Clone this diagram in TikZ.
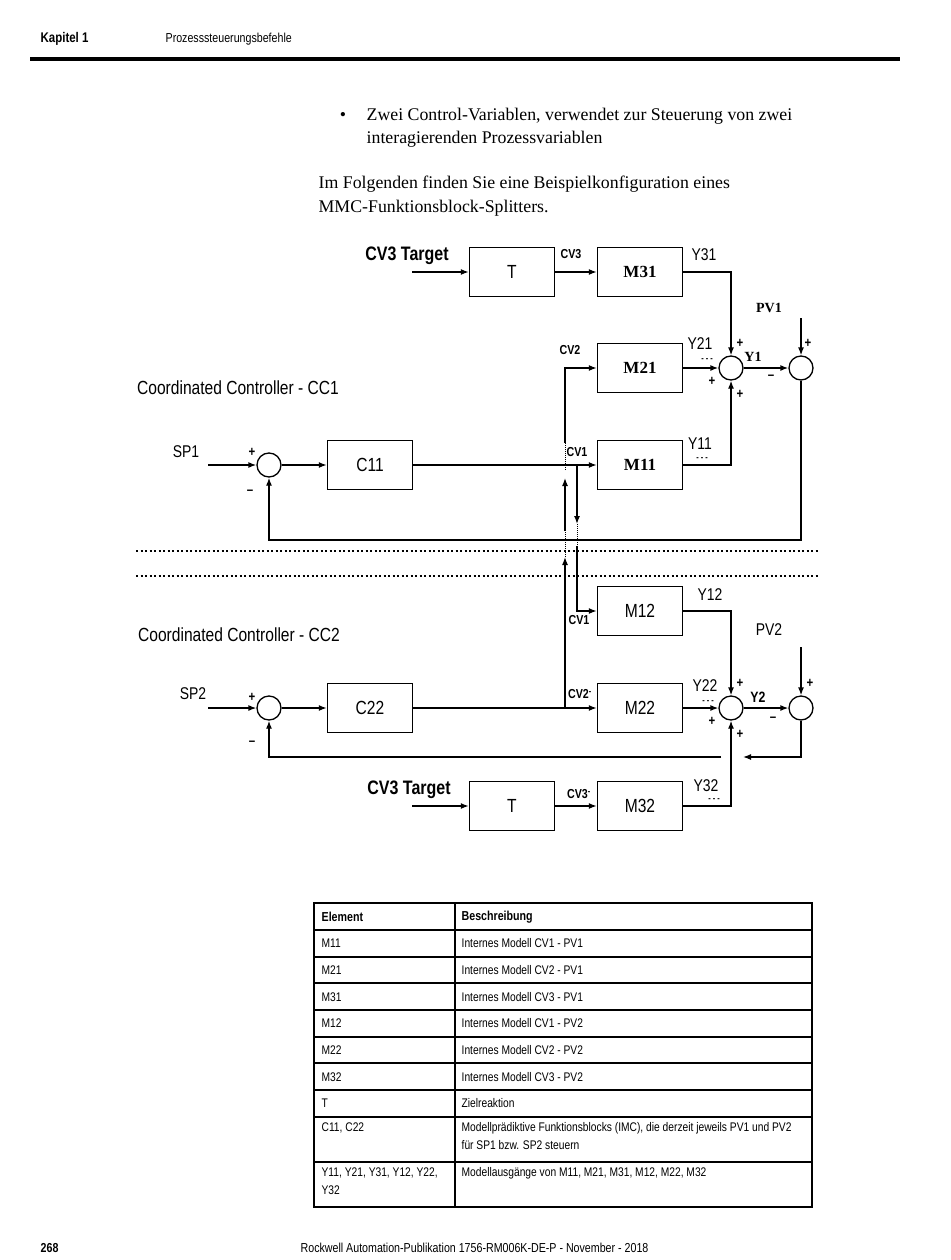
\documentclass[tikz,border=0pt]{standalone}
\usepackage{fontspec}
\setmainfont{Liberation Serif}
\newfontfamily\condsans[FakeStretch=0.82]{Liberation Sans}
\usetikzlibrary{arrows.meta,positioning}
\def\mns{\textendash}
\def\dsh{-\ -\ -}

\begin{document}
\begin{tikzpicture}[x=1pt,y=-1pt,>={Latex[length=8pt,width=6pt]},line width=1.3pt,
    box/.style={draw,line width=1.5pt,minimum width=85pt,minimum height=49pt,inner sep=0pt,font=\condsans\fontsize{19}{19}\selectfont},
    boxb/.style={box,font=\bfseries\fontsize{17}{17}\selectfont},
    jn/.style={draw,circle,minimum size=24pt,inner sep=0pt},
    lb/.style={inner sep=0pt,font=\condsans\fontsize{17}{17}\selectfont},
    bl/.style={inner sep=0pt,font=\condsans\bfseries\fontsize{13}{13}\selectfont},
    sl/.style={inner sep=0pt,font=\bfseries\fontsize{14}{14}\selectfont},
    pm/.style={inner sep=0pt,font=\condsans\bfseries\fontsize{14}{14}\selectfont},
    dl/.style={inner sep=0pt,font=\condsans\bfseries\fontsize{9}{9}\selectfont},
    gap/.style={densely dotted,line width=1pt},
    sep/.style={line width=2pt,dash pattern=on 2pt off 2.5pt},
    body/.style={anchor=base west,inner sep=0pt,font=\fontsize{17.8}{23}\selectfont},
    tab/.style={anchor=west,inner sep=0pt,align=left,font=\condsans\fontsize{12.5}{18}\selectfont}]
    \fill[white] (0,0) rectangle (950,1260);
    \useasboundingbox (0,0) rectangle (950,1260);

    \node[anchor=west,inner sep=0pt,font=\condsans\bfseries\fontsize{14}{14}\selectfont] (kap) at (40,39) {Kapitel 1};
    \node[anchor=west,inner sep=0pt,font=\condsans\fontsize{13}{13}\selectfont] (hdr) at (165,39) {Prozesssteuerungsbefehle};
    \draw[line width=4pt] (30,59) -- (900,59);

    \node[inner sep=0pt,font=\fontsize{17.8}{23}\selectfont] (bul) at (343,116) {\textbullet};
    \node[body] (b1) at (366,121) {Zwei Control-Variablen, verwendet zur Steuerung von zwei};
    \node[body] (b2) at (366,144) {interagierenden Prozessvariablen};
    \node[body] (p1) at (318,189) {Im Folgenden finden Sie eine Beispielkonfiguration eines};
    \node[body] (p2) at (318,212) {MMC-Funktionsblock-Splitters.};

    \node[box] (T1) at (512,272) {T};
    \node[boxb] (M31) at (640,272) {M31};
    \node[boxb] (M21) at (640,368) {M21};
    \node[boxb] (M11) at (640,465) {M11};
    \node[box] (C11) at (370,465) {C11};
    \node[jn] (A1) at (269,465) {};
    \node[jn] (S1) at (731,368) {};
    \node[jn] (P1) at (801,368) {};
    \coordinate (t1) at (412,272);
    \coordinate (sp1) at (208,465);
    \coordinate (pv1) at (801,318);
    \coordinate (fb1) at (801,540);

    \node[box] (M12) at (640,611) {M12};
    \node[box] (M22) at (640,708) {M22};
    \node[box] (C22) at (370,708) {C22};
    \node[box] (T2) at (512,806) {T};
    \node[box] (M32) at (640,806) {M32};
    \node[jn] (A2) at (269,708) {};
    \node[jn] (S2) at (731,708) {};
    \node[jn] (P2) at (801,708) {};
    \coordinate (t2) at (412,806);
    \coordinate (sp2) at (208,708);
    \coordinate (pv2) at (801,647);
    \coordinate (fb2) at (801,757);
    \coordinate (fa) at (743,757);
    \coordinate (fc) at (721,757);

    \draw[->] (t1) -- (T1);
    \draw[->] (T1) -- (M31);
    \draw[->] (M31) -| (S1);
    \draw[->] (M21) -- (S1);
    \draw[->] (M11) -| (S1);
    \draw[->] (S1) -- (P1);
    \draw[->] (pv1) -- (P1);
    \draw[->] (P1) -- (fb1) -| (A1);
    \draw[->] (sp1) -- (A1);
    \draw[->] (A1) -- (C11);
    \draw[->] (C11) -- (M11);

    \draw[->] (t2) -- (T2);
    \draw[->] (T2) -- (M32);
    \draw[->] (M12) -| (S2);
    \draw[->] (M22) -- (S2);
    \draw[->] (M32) -| (S2);
    \draw[->] (S2) -- (P2);
    \draw[->] (pv2) -- (P2);
    \draw[->] (P2) -- (fb2) -- (fa);
    \draw[->] (fc) -| (A2);
    \draw[->] (sp2) -- (A2);
    \draw[->] (A2) -- (C22);
    \draw[->] (C22) -- (M22);

    \draw[->] (565,708) -- (565,557);
    \draw[gap] (565,557) -- (565,531);
    \draw[->] (565,531) -- (565,478);
    \draw[gap] (565,470) -- (565,443);
    \draw[->] (565,443) |- (M21);
    \draw[->] (577,465) -- (577,524);
    \draw[gap] (577,524) -- (577,546);
    \draw[->] (577,546) |- (M12);

    \draw[sep] (136,551) -- (818,551);
    \draw[sep] (136,576) -- (818,576);

    \node[inner sep=0pt,font=\condsans\bfseries\fontsize{19.5}{19.5}\selectfont] (cv31) at (407,256) {CV3 Target};
    \node[bl] (l31) at (571,254) {CV3};
    \node[lb] (y31) at (704,255) {Y31};
    \node[sl] (pvl1) at (769,308) {PV1};
    \node[sl] (yl1) at (753,357) {Y1};
    \node[lb] (y21) at (700,344) {Y21};
    \node[bl] (l21) at (570,350) {CV2};
    \node[lb] (y11) at (700,444) {Y11};
    \node[dl] (d11) at (702,459) {\dsh};
    \node[bl] (l11) at (577,452) {CV1};
    \node[lb] (sp1l) at (186,452) {SP1};
    \node[lb,font=\condsans\fontsize{19}{19}\selectfont] (cc1) at (238,388) {Coordinated Controller - CC1};
    \node[pm] (a1p) at (252,452) {+};
    \node[pm] (a1m) at (250,492) {\mns};
    \node[pm] (s1a) at (740,343) {+};
    \node[pm] (s1b) at (712,381) {+};
    \node[pm] (s1c) at (740,394) {+};
    \node[dl] (s1d) at (707,360) {\dsh};
    \node[pm] (p1m) at (771,377) {\mns};
    \node[pm] (p1p) at (808,343) {+};

    \node[lb] (y12) at (710,595) {Y12};
    \node[bl] (l12) at (579,620) {CV1};
    \node[lb,font=\condsans\fontsize{19}{19}\selectfont] (cc2) at (239,635) {Coordinated Controller - CC2};
    \node[lb] (pvl2) at (769,630) {PV2};
    \node[lb] (sp2l) at (193,694) {SP2};
    \node[pm] (a2p) at (252,697) {+};
    \node[pm] (a2m) at (252,743) {\mns};
    \node[bl] (l22) at (580,694) {CV2\textsuperscript{-}};
    \node[lb] (y22) at (705,686) {Y22};
    \node[dl] (d22) at (708,702) {\dsh};
    \node[bl,font=\condsans\bfseries\fontsize{15}{15}\selectfont] (yl2) at (758,697) {Y2};
    \node[pm] (s2a) at (740,683) {+};
    \node[pm] (s2b) at (712,721) {+};
    \node[pm] (s2c) at (740,734) {+};
    \node[pm] (p2m) at (773,719) {\mns};
    \node[pm] (p2p) at (810,683) {+};
    \node[inner sep=0pt,font=\condsans\bfseries\fontsize{19.5}{19.5}\selectfont] (cv32) at (409,790) {CV3 Target};
    \node[bl] (l32) at (579,794) {CV3\textsuperscript{-}};
    \node[lb] (y32) at (706,786) {Y32};
    \node[dl] (d32) at (714,800) {\dsh};

    \draw[line width=1.5pt] (314,903) rectangle (812,1207);
    \draw[line width=1.5pt] (455,903) -- (455,1207);
    \foreach \y in {930,957,983,1010,1037,1063,1090,1117,1162}
        \draw[line width=1.2pt] (314,\y) -- (812,\y);
    \node[tab,font=\condsans\bfseries\fontsize{13}{18}\selectfont] (h1) at (321,917) {Element};
    \node[tab,font=\condsans\bfseries\fontsize{13}{18}\selectfont] (h2) at (461,917) {Beschreibung};
    \foreach \y/\e/\d in {943/M11/Internes Modell CV1 - PV1,
                          970/M21/Internes Modell CV2 - PV1,
                          997/M31/Internes Modell CV3 - PV1,
                          1023/M12/Internes Modell CV1 - PV2,
                          1050/M22/Internes Modell CV2 - PV2,
                          1077/M32/Internes Modell CV3 - PV2,
                          1103/T/Zielreaktion} {
        \node[tab] (e\y) at (321,\y) {\e};
        \node[tab] (d\y) at (461,\y) {\d};
    }
    \node[tab,anchor=north west] (e8) at (321,1122) {C11, C22};
    \node[tab,anchor=north west] (d8) at (461,1122) {Modellprädiktive Funktionsblocks (IMC), die derzeit jeweils PV1 und PV2\\für SP1 bzw. SP2 steuern};
    \node[tab,anchor=north west] (e9) at (321,1167) {Y11, Y21, Y31, Y12, Y22,\\Y32};
    \node[tab,anchor=north west] (d9) at (461,1167) {Modellausgänge von M11, M21, M31, M12, M22, M32};

    \node[anchor=west,inner sep=0pt,font=\condsans\bfseries\fontsize{13}{13}\selectfont] (pg) at (40,1248) {268};
    \node[anchor=west,inner sep=0pt,font=\condsans\fontsize{13}{13}\selectfont] (ft) at (300,1248) {Rockwell Automation-Publikation 1756-RM006K-DE-P - November - 2018};
\end{tikzpicture}
\end{document}
